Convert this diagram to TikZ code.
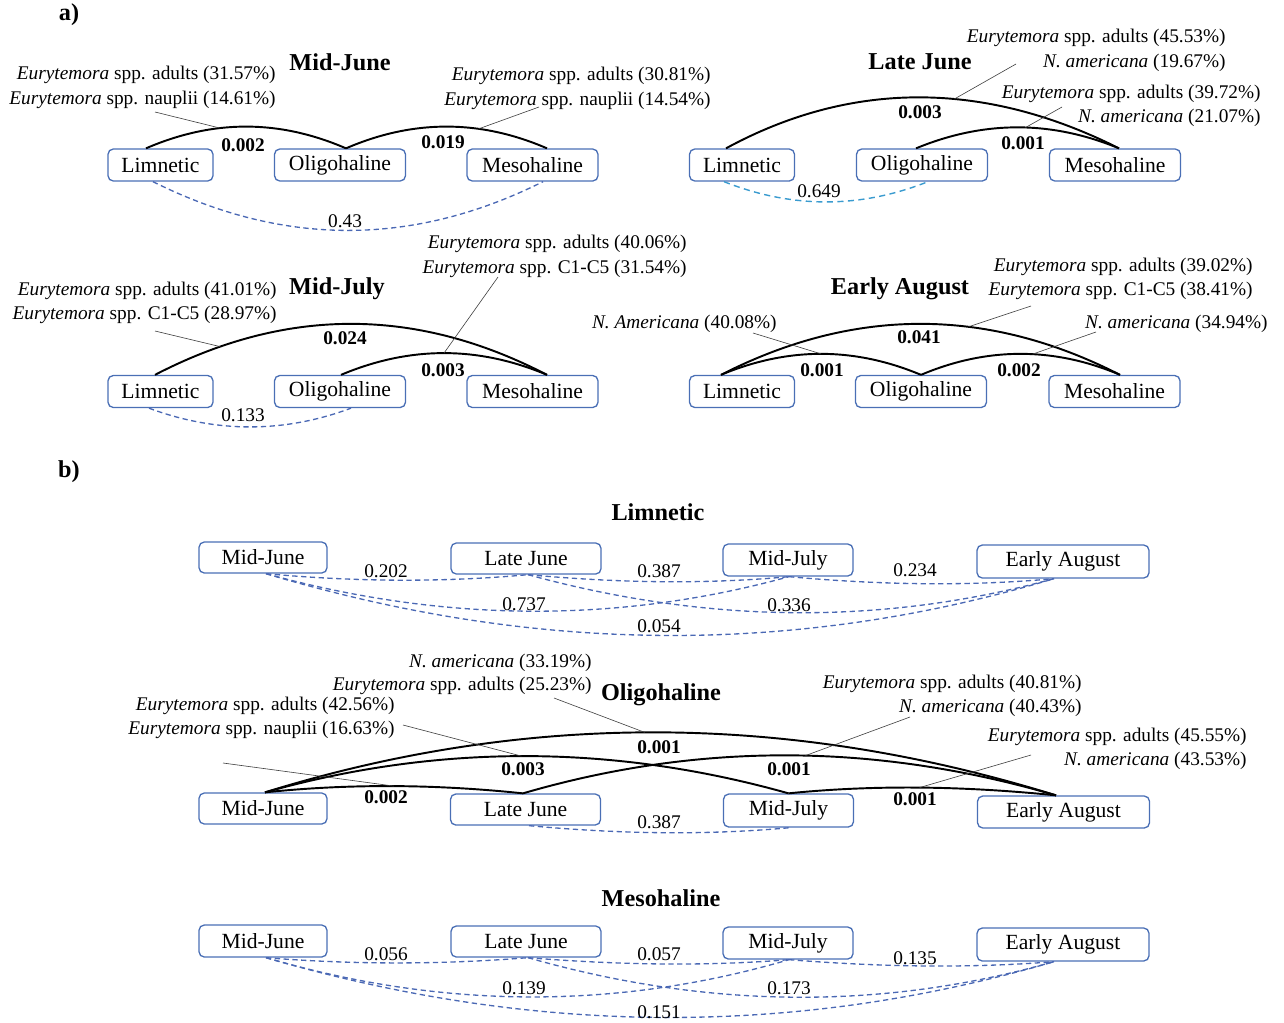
\documentclass[tikz,border=0pt]{standalone}
\usepackage{fontspec}
\setmainfont{Liberation Serif}
\usetikzlibrary{calc}
\definecolor{boxblue}{HTML}{4A6FB5}
\definecolor{nsblue}{HTML}{4A68B4}
\definecolor{nscyan}{HTML}{3A9BCF}
\begin{document}
\begin{tikzpicture}[x=0.02cm,y=-0.02cm,
  box/.style={draw=boxblue,line width=0.75pt,rounded corners=3pt,inner sep=0pt,font=\fontsize{12.3}{14}\selectfont,minimum height=0.64cm},
  sig/.style={draw=black,line width=1.1pt},
  ns/.style={draw=nsblue,line width=0.75pt,dash pattern=on 3pt off 2pt},
  nsc/.style={draw=nscyan,line width=0.8pt,dash pattern=on 3.5pt off 2.5pt},
  lead/.style={draw=black!75,line width=0.35pt},
  lab/.style={font=\fontsize{11}{13}\selectfont,inner sep=0pt,yshift=-0.02cm},
  sp/.style={font=\fontsize{11}{13}\selectfont,inner sep=0pt,anchor=east,yshift=-0.05cm},
  elab/.style={font=\fontsize{11}{13}\selectfont\bfseries,inner sep=0pt,yshift=-0.02cm},
  ttl/.style={font=\fontsize{13.8}{16}\selectfont\bfseries,inner sep=0pt},
]
\useasboundingbox (0,0) rectangle (1284,1022);

\node[ttl] (pa) at (69,15) {a)};
\node[ttl] (pb) at (69,472) {b)};

% ---------------- Mid-June ----------------
\node[box,minimum width=2.1cm] (l1) at (160.5,165) {Limnetic};
\node[box,minimum width=2.62cm] (o1) at (340,165) {Oligohaline};
\node[box,minimum width=2.62cm] (m1) at (532.5,165) {Mesohaline};
\node[ttl] (t1) at (340,62) {Mid-June};
\node[sp] (a1) at (276,72) {\textit{Eurytemora} spp. adults (31.57\%)};
\node[sp] (a2) at (276,97) {\textit{Eurytemora} spp. nauplii (14.61\%)};
\node[sp] (a3) at (711,73) {\textit{Eurytemora} spp. adults (30.81\%)};
\node[sp] (a4) at (711,98) {\textit{Eurytemora} spp. nauplii (14.54\%)};
\draw[sig] ($(l1.north)+(-14.5,0)$) .. controls +(67,-29) and +(-67,-29) .. ($(o1.north)+(6,0)$) coordinate[pos=0.37] (k1);
\draw[sig] ($(o1.north)+(6,0)$) .. controls +(67,-29) and +(-67,-29) .. ($(m1.north)+(14.5,0)$) coordinate[pos=0.66] (k2);
\draw[ns] ($(l1.south)+(-7.5,0)$) .. controls +(130,65) and +(-130,65) .. ($(m1.south)+(10.5,0)$);
\node[elab] (e1) at (243,144) {0.002};
\node[elab] (e2) at (443,141) {0.019};
\node[lab] (e3) at (345,220) {0.43};
\coordinate (p1) at (155,112); \draw[lead] (p1) -- (k1);
\coordinate (p2) at (539,107); \draw[lead] (p2) -- (k2);

% ---------------- Late June ----------------
\node[box,minimum width=2.1cm] (l2) at (742,165) {Limnetic};
\node[box,minimum width=2.62cm] (o2) at (922,165) {Oligohaline};
\node[box,minimum width=2.62cm] (m2) at (1115,165) {Mesohaline};
\node[ttl] (t2) at (920,62) {Late June};
\node[sp] (b1) at (1226,35) {\textit{Eurytemora} spp. adults (45.53\%)};
\node[sp] (b2) at (1226,60) {\textit{N. americana} (19.67\%)};
\node[sp] (b3) at (1261,91) {\textit{Eurytemora} spp. adults (39.72\%)};
\node[sp] (b4) at (1261,115) {\textit{N. americana} (21.07\%)};
\draw[sig] ($(l2.north)+(-16,0)$) .. controls +(125,-68) and +(-135,-68) .. ($(m2.north)+(4,0)$) coordinate[pos=0.59] (k3);
\draw[sig] ($(o2.north)+(-6,0)$) .. controls +(68,-28) and +(-68,-28) .. ($(m2.north)+(4,0)$) coordinate[pos=0.54] (k4);
\draw[nsc] ($(l2.south)+(-18,0)$) .. controls +(68,27) and +(-68,27) .. ($(o2.south)+(6,0)$);
\node[elab] (f1) at (920,111) {0.003};
\node[elab] (f2) at (1023,142) {0.001};
\node[lab] (f3) at (819,190) {0.649};
\coordinate (p3) at (1016,64); \draw[lead] (p3) -- (k3);
\coordinate (p4) at (1062,107); \draw[lead] (p4) -- (k4);

% ---------------- Mid-July ----------------
\node[box,minimum width=2.1cm] (l3) at (160.5,391.5) {Limnetic};
\node[box,minimum width=2.62cm] (o3) at (340,391.5) {Oligohaline};
\node[box,minimum width=2.62cm] (m3) at (532.5,391.5) {Mesohaline};
\node[ttl] (t3) at (337,289) {Mid-July};
\node[sp] (c1) at (277,288) {\textit{Eurytemora} spp. adults (41.01\%)};
\node[sp] (c2) at (277,312) {\textit{Eurytemora} spp. C1-C5 (28.97\%)};
\node[sp] (c3) at (687,241) {\textit{Eurytemora} spp. adults (40.06\%)};
\node[sp] (c4) at (687,266) {\textit{Eurytemora} spp. C1-C5 (31.54\%)};
\draw[sig] ($(l3.north)+(-5.5,0)$) .. controls +(131,-68) and +(-131,-68) .. ($(m3.north)+(14.5,0)$) coordinate[pos=0.166] (k5);
\draw[sig] ($(o3.north)+(1,0)$) .. controls +(69,-29) and +(-69,-29) .. ($(m3.north)+(14.5,0)$) coordinate[pos=0.5] (k6);
\draw[ns] ($(l3.south)+(-11.5,0)$) .. controls +(67,25) and +(-67,25) .. ($(o3.south)+(11,0)$);
\node[elab] (g1) at (345,337) {0.024};
\node[elab] (g2) at (443,369) {0.003};
\node[lab] (g3) at (243,414) {0.133};
\coordinate (p5) at (155,331); \draw[lead] (p5) -- (k5);
\coordinate (p6) at (498,277); \draw[lead] (p6) -- (k6);

% ---------------- Early August ----------------
\node[box,minimum width=2.1cm] (l4) at (742,391.5) {Limnetic};
\node[box,minimum width=2.62cm] (o4) at (921,391.5) {Oligohaline};
\node[box,minimum width=2.62cm] (m4) at (1114.5,391.5) {Mesohaline};
\node[ttl] (t4) at (900,289) {Early August};
\node[sp] (d1) at (1253,264) {\textit{Eurytemora} spp. adults (39.02\%)};
\node[sp] (d2) at (1253,288) {\textit{Eurytemora} spp. C1-C5 (38.41\%)};
\node[sp] (d3) at (1268,321) {\textit{N. americana} (34.94\%)};
\node[sp] (d4) at (777,321) {\textit{N. Americana} (40.08\%)};
\draw[sig] ($(l4.north)+(-21,0)$) .. controls +(133,-68) and +(-133,-68) .. ($(m4.north)+(5.5,0)$) coordinate[pos=0.62] (k7);
\draw[sig] ($(l4.north)+(-21,0)$) .. controls +(67,-28) and +(-67,-28) .. (o4.north) coordinate[pos=0.5] (k8);
\draw[sig] (o4.north) .. controls +(66,-28) and +(-66,-28) .. ($(m4.north)+(5.5,0)$) coordinate[pos=0.56] (k9);
\node[elab] (h1) at (919,336) {0.041};
\node[elab] (h2) at (822,369) {0.001};
\node[elab] (h3) at (1019,369) {0.002};
\coordinate (p7) at (753,333); \draw[lead] (p7) -- (k8);
\coordinate (p8) at (1031,306); \draw[lead] (p8) -- (k7);
\coordinate (p9) at (1096,332); \draw[lead] (p9) -- (k9);

% ---------------- b) Limnetic ----------------
\node[ttl] (t5) at (658,512) {Limnetic};
\node[box,minimum width=2.56cm,minimum height=0.62cm] (bmja) at (263,557.5) {Mid-June};
\node[box,minimum width=3.0cm,minimum height=0.62cm] (blja) at (526,558.5) {Late June};
\node[box,minimum width=2.6cm,minimum height=0.64cm] (bmla) at (788,560) {Mid-July};
\node[box,minimum width=3.44cm,minimum height=0.66cm] (beaa) at (1063,561.5) {Early August};
\draw[ns] ($(bmja.south)+(3,0)$) .. controls +(87,8) and +(-87,8) .. ($(blja.south)+(2,0)$);
\draw[ns] ($(blja.south)+(2,0)$) .. controls +(87,8) and +(-87,8) .. ($(bmla.south)+(1,0)$);
\draw[ns] ($(bmla.south)+(1,0)$) .. controls +(88,8) and +(-88,8) .. ($(beaa.south)+(-9,0)$);
\draw[ns] ($(bmja.south)+(3,0)$) .. controls +(174,48) and +(-174,48) .. ($(bmla.south)+(1,0)$);
\draw[ns] ($(blja.south)+(2,0)$) .. controls +(175,48) and +(-175,48) .. ($(beaa.south)+(-9,0)$);
\draw[ns] ($(bmja.south)+(3,0)$) .. controls +(263,79) and +(-263,79) .. ($(beaa.south)+(-9,0)$);
\node[lab] (i1) at (386,570) {0.202};
\node[lab] (i2) at (659,570) {0.387};
\node[lab] (i3) at (915,569) {0.234};
\node[lab] (i4) at (524,603) {0.737};
\node[lab] (i5) at (789,604) {0.336};
\node[lab] (i6) at (659,625) {0.054};

% ---------------- b) Oligohaline ----------------
\node[ttl] (t6) at (661,695) {Oligohaline};
\node[box,minimum width=2.56cm,minimum height=0.62cm] (bmjb) at (263,808.5) {Mid-June};
\node[box,minimum width=3.0cm,minimum height=0.62cm] (bljb) at (525.5,809.5) {Late June};
\node[box,minimum width=2.6cm,minimum height=0.66cm] (bmlb) at (788.5,810.5) {Mid-July};
\node[box,minimum width=3.44cm,minimum height=0.64cm] (beab) at (1063.5,812) {Early August};
\node[sp] (j1) at (592,660) {\textit{N. americana} (33.19\%)};
\node[sp] (j2) at (592,683) {\textit{Eurytemora} spp. adults (25.23\%)};
\node[sp] (j3) at (395,703) {\textit{Eurytemora} spp. adults (42.56\%)};
\node[sp] (j4) at (395,727) {\textit{Eurytemora} spp. nauplii (16.63\%)};
\node[sp] (j5) at (1082,681) {\textit{Eurytemora} spp. adults (40.81\%)};
\node[sp] (j6) at (1082,705) {\textit{N. americana} (40.43\%)};
\node[sp] (j7) at (1247,734) {\textit{Eurytemora} spp. adults (45.55\%)};
\node[sp] (j8) at (1247,758) {\textit{N. americana} (43.53\%)};
\draw[sig] ($(bmjb.north)+(2,0)$) .. controls +(86,-9) and +(-86,-9) .. ($(bljb.north)+(-2.5,0)$) coordinate[pos=0.5] (k10);
\draw[sig] ($(bmjb.north)+(2,0)$) .. controls +(174,-49) and +(-174,-49) .. (bmlb.north) coordinate[pos=0.49] (k11);
\draw[sig] ($(bmjb.north)+(2,0)$) .. controls +(264,-82) and +(-264,-82) .. ($(beab.north)+(-7.5,0)$) coordinate[pos=0.48] (k12);
\draw[sig] ($(bljb.north)+(-2.5,0)$) .. controls +(178,-52) and +(-178,-52) .. ($(beab.north)+(-7.5,0)$) coordinate[pos=0.53] (k13);
\draw[sig] (bmlb.north) .. controls +(89,-9) and +(-89,-9) .. ($(beab.north)+(-7.5,0)$) coordinate[pos=0.49] (k14);
\draw[ns] ($(bljb.south)+(3.5,0)$) .. controls +(87,8) and +(-87,8) .. ($(bmlb.south)+(1.5,0)$);
\node[elab] (n1) at (386,796) {0.002};
\node[elab] (n2) at (523,768) {0.003};
\node[elab] (n3) at (659,746) {0.001};
\node[elab] (n4) at (789,768) {0.001};
\node[elab] (n5) at (915,798) {0.001};
\node[lab] (n6) at (659,821) {0.387};
\coordinate (q1) at (554,698); \draw[lead] (q1) -- (k12);
\coordinate (q2) at (403,725); \draw[lead] (q2) -- (k11);
\coordinate (q3) at (223,763); \draw[lead] (q3) -- (k10);
\coordinate (q4) at (910,717); \draw[lead] (q4) -- (k13);
\coordinate (q5) at (1031,755); \draw[lead] (q5) -- (k14);

% ---------------- b) Mesohaline ----------------
\node[ttl] (t7) at (661,898) {Mesohaline};
\node[box,minimum width=2.56cm,minimum height=0.64cm] (bmjc) at (263,941) {Mid-June};
\node[box,minimum width=3.0cm,minimum height=0.62cm] (bljc) at (526,941.5) {Late June};
\node[box,minimum width=2.6cm,minimum height=0.64cm] (bmlc) at (788,943) {Mid-July};
\node[box,minimum width=3.44cm,minimum height=0.66cm] (beac) at (1063,944.5) {Early August};
\draw[ns] ($(bmjc.south)+(3,0)$) .. controls +(87,7) and +(-87,7) .. ($(bljc.south)+(2,0)$);
\draw[ns] ($(bljc.south)+(2,0)$) .. controls +(87,7) and +(-87,7) .. ($(bmlc.south)+(1,0)$);
\draw[ns] ($(bmlc.south)+(1,0)$) .. controls +(88,7) and +(-88,7) .. ($(beac.south)+(-9,0)$);
\draw[ns] ($(bmjc.south)+(3,0)$) .. controls +(174,51) and +(-174,51) .. ($(bmlc.south)+(1,0)$);
\draw[ns] ($(bljc.south)+(2,0)$) .. controls +(175,50) and +(-175,50) .. ($(beac.south)+(-9,0)$);
\draw[ns] ($(bmjc.south)+(3,0)$) .. controls +(263,77) and +(-263,77) .. ($(beac.south)+(-9,0)$);
\node[lab] (r1) at (386,953) {0.056};
\node[lab] (r2) at (659,953) {0.057};
\node[lab] (r3) at (915,957) {0.135};
\node[lab] (r4) at (524,987) {0.139};
\node[lab] (r5) at (789,987) {0.173};
\node[lab] (r6) at (659,1011) {0.151};
\end{tikzpicture}
\end{document}
